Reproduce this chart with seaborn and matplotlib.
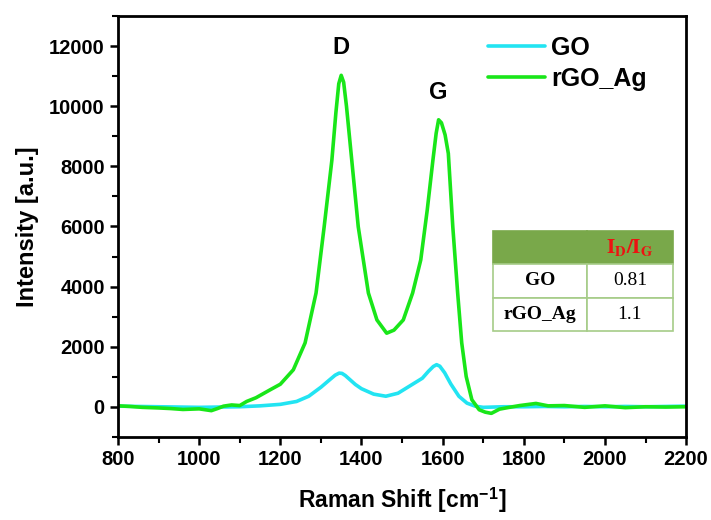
"""Raman spectra of GO and rGO_Ag."""

import matplotlib

matplotlib.use("Agg")
import matplotlib.pyplot as plt
import pandas as pd
import seaborn as sns
from matplotlib.ticker import MultipleLocator

# Raman shift (cm-1) and intensity
GO_SHIFT = [800, 850, 900, 950, 1000, 1050, 1100, 1150, 1200, 1240, 1270, 1300,
            1320, 1335, 1345, 1352, 1360, 1370, 1385, 1400, 1430, 1460, 1490,
            1520, 1550, 1565, 1577, 1585, 1593, 1605, 1620, 1640, 1660, 1680,
            1700, 1750, 1800, 1850, 1900, 1950, 2000, 2050, 2100, 2150, 2200]
GO_INT = [20, 10, 0, -10, -20, -10, 0, 30, 80, 176, 350, 650,
          880, 1050, 1120, 1110, 1040, 920, 740, 600, 420, 350, 450,
          700, 950, 1180, 1340, 1400, 1350, 1130, 760, 350, 120, 20,
          -20, 0, 0, 10, 0, 10, 0, 10, 0, 10, 20]

RGO_SHIFT = [800, 830, 860, 900, 930, 960, 1000, 1030, 1045, 1060, 1080, 1100,
             1117, 1140, 1175, 1200, 1232, 1261, 1288, 1308, 1327, 1337, 1344,
             1350, 1356, 1363, 1376, 1392, 1417, 1438, 1462, 1480, 1503, 1526,
             1546, 1562, 1576, 1584, 1590, 1597, 1606, 1614, 1625, 1637, 1647,
             1658, 1672, 1690, 1705, 1720, 1740, 1760, 1790, 1830, 1860, 1900,
             1950, 2000, 2050, 2100, 2150, 2200]
RGO_INT = [30, 10, -20, -40, -60, -90, -70, -130, -60, 20, 60, 40,
           176, 300, 565, 750, 1230, 2126, 3785, 5990, 8206, 9800, 10750,
           11030, 10800, 10000, 8206, 5990, 3785, 2890, 2448, 2550, 2890, 3785,
           4884, 6545, 8206, 9100, 9550, 9450, 9050, 8428, 5990, 3785, 2126,
           1007, 233, -100, -180, -220, -80, -30, 40, 110, 30, 40,
           -20, 30, -30, 0, -10, 0]

SAMPLES = ["GO", "rGO_Ag"]
COLORS = ["#22e4f2", "#19e619"]
RATIO = ["0.81", "1.1"]


def main():
    df = pd.concat([
        pd.DataFrame({"shift": GO_SHIFT, "intensity": GO_INT, "sample": "GO"}),
        pd.DataFrame({"shift": RGO_SHIFT, "intensity": RGO_INT, "sample": "rGO_Ag"}),
    ])

    sns.set_style("ticks")
    plt.rcParams["font.family"] = ["Liberation Sans", "DejaVu Sans"]
    plt.rcParams["mathtext.fontset"] = "stix"
    plt.rcParams["text.color"] = "black"
    plt.rcParams["axes.labelcolor"] = "black"
    plt.rcParams["xtick.color"] = "black"
    plt.rcParams["ytick.color"] = "black"
    plt.rcParams["axes.edgecolor"] = "black"

    fig, ax = plt.subplots(figsize=(7.11, 5.2), dpi=100)
    fig.subplots_adjust(left=0.166, right=0.965, top=0.969, bottom=0.160)

    sns.lineplot(data=df, x="shift", y="intensity", hue="sample", hue_order=SAMPLES,
                 palette=COLORS, linewidth=2.6, sort=False, ax=ax)

    ax.set_xlim(800, 2200)
    ax.set_ylim(-1000, 13000)
    ax.xaxis.set_major_locator(MultipleLocator(200))
    ax.xaxis.set_minor_locator(MultipleLocator(100))
    ax.yaxis.set_major_locator(MultipleLocator(2000))
    ax.yaxis.set_minor_locator(MultipleLocator(1000))
    ax.tick_params(which="major", direction="out", length=6, width=1.8,
                   labelsize=14.5)
    ax.tick_params(which="minor", direction="out", length=4, width=1.5)
    for lab in ax.get_xticklabels() + ax.get_yticklabels():
        lab.set_fontweight("bold")
    for sp in ax.spines.values():
        sp.set_visible(True)
        sp.set_linewidth(2)

    ax.set_xlabel("Raman Shift [cm$^{\\mathregular{-1}}$]", fontsize=16.5,
                  fontweight="bold", labelpad=12)
    ax.set_ylabel("Intensity [a.u.]", fontsize=17, fontweight="bold", labelpad=7)

    ax.text(1350, 11950, "D", ha="center", va="center", fontsize=17, fontweight="bold")
    ax.text(1590, 10460, "G", ha="center", va="center", fontsize=17, fontweight="bold")

    leg = ax.legend(loc="upper left", bbox_to_anchor=(0.62, 0.995), frameon=False,
                    fontsize=18, handlelength=2.3, handletextpad=0.25,
                    labelspacing=0.3, borderaxespad=0.3)
    for t in leg.get_texts():
        t.set_fontweight("bold")
    for h in leg.get_lines():
        h.set_linewidth(2.6)

    cells = [["", r"$\mathbf{I_D/I_G}$"]] + [[s, r] for s, r in zip(SAMPLES, RATIO)]
    tab = ax.table(cellText=cells, bbox=[0.660, 0.252, 0.317, 0.237],
                   colWidths=[0.52, 0.48], cellLoc="center")
    tab.auto_set_font_size(False)
    for (r, c), cell in tab.get_celld().items():
        cell.set_edgecolor("#a6cc88")
        cell.set_linewidth(1.2)
        txt = cell.get_text()
        txt.set_fontfamily("Liberation Serif")
        txt.set_fontsize(14)
        if r == 0:
            cell.set_facecolor("#79a84a")
            cell.set_edgecolor("#79a84a")
            txt.set_color("#ee1111")
            txt.set_fontsize(15)
        elif c == 0:
            txt.set_fontweight("bold")

    fig.savefig("out.png", dpi=100)


if __name__ == "__main__":
    main()
